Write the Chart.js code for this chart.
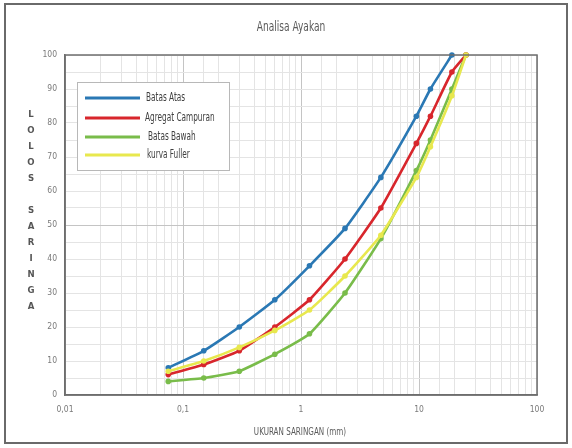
<!DOCTYPE html>
<html><head><meta charset="utf-8">
<script src="https://cdn.jsdelivr.net/npm/chart.js@4.4.1/dist/chart.umd.min.js"></script>
<style>html,body{margin:0;padding:0;background:#fff}#wrap{width:572px;height:448px;position:relative}</style>
</head><body><div id="wrap"><canvas id="c" width="572" height="448"></canvas></div>
<script>
const chartTitle = 'Analisa Ayakan';
const xTitle = 'UKURAN SARINGAN (mm)';
const yTitleLetters = ['L','O','L','O','S','','S','A','R','I','N','G','A'];
const sieveSizes = [0.075, 0.15, 0.3, 0.6, 1.18, 2.36, 4.75, 9.5, 12.5, 19, 25];
const batasAtas = [8, 13, 20, 28, 38, 49, 64, 82, 90, 100, null];
const agregatCampuran = [6, 9, 13, 20, 28, 40, 55, 74, 82, 95, 100];
const batasBawah = [4, 5, 7, 12, 18, 30, 46, 66, 75, 90, 100];
const kurvaFuller = [7, 10, 14, 19, 25, 35, 47, 64, 73, 88, 100];
const seriesNames = ['Batas Atas', 'Agregat Campuran', 'Batas Bawah', 'kurva Fuller'];
const seriesColors = ['#2a78b4', '#d8262c', '#79bc4a', '#e8e84e'];
const xTickLabels = {'-2': '0,01', '-1': '0,1', '0': '1', '1': '10', '2': '100'};
const yTickStep = 10;

const NARROW = "'Liberation Sans Narrow', 'DejaVu Sans Condensed', 'Liberation Sans', sans-serif";

function pts(arr) {
  return sieveSizes.map((s, i) => ({x: s, y: arr[i]})).filter(p => p.y !== null);
}
const seriesData = [batasAtas, agregatCampuran, batasBawah, kurvaFuller];
const orders = [2, 1, 3, 0];
const datasets = seriesData.map((arr, i) => ({
  label: seriesNames[i],
  data: pts(arr),
  borderColor: seriesColors[i],
  backgroundColor: seriesColors[i],
  borderWidth: 2.6,
  pointRadius: 2.8,
  pointHoverRadius: 2.8,
  pointBorderWidth: 0,
  tension: 0.15,
  clip: false,
  order: orders[i]
}));

function squeezeText(ctx, text, x, y, factor) {
  const w = ctx.measureText(text).width;
  ctx.fillText(text, x, y, w * factor);
}

const deco = {
  id: 'deco',
  beforeDraw(chart) {
    const ctx = chart.ctx;
    ctx.save();
    ctx.fillStyle = '#fff';
    ctx.fillRect(0, 0, chart.width, chart.height);
    ctx.strokeStyle = '#6a6a6a';
    ctx.lineWidth = 2;
    ctx.strokeRect(5, 4, 562, 439);
    ctx.restore();
  },
  afterDatasetsDraw(chart) {
    const ctx = chart.ctx, a = chart.chartArea;
    ctx.save();
    ctx.strokeStyle = '#6e6e6e';
    ctx.lineWidth = 1.5;
    ctx.strokeRect(a.left, a.top, a.right - a.left, a.bottom - a.top);
    // legend
    const lx = 77, ly = 82, lw = 152, lh = 88;
    ctx.fillStyle = '#fff';
    ctx.fillRect(lx, ly, lw, lh);
    ctx.strokeStyle = '#b8b8b8';
    ctx.lineWidth = 1;
    ctx.strokeRect(lx + 0.5, ly + 0.5, lw, lh);
    const rows = [98, 118, 137, 155];
    const textX = [146, 145, 148, 147];
    ctx.font = '12px ' + NARROW;
    ctx.textBaseline = 'middle';
    ctx.textAlign = 'left';
    for (let i = 0; i < 4; i++) {
      ctx.strokeStyle = seriesColors[i];
      ctx.lineWidth = 3;
      ctx.beginPath();
      ctx.moveTo(85, rows[i]);
      ctx.lineTo(140, rows[i]);
      ctx.stroke();
      ctx.fillStyle = '#404040';
      squeezeText(ctx, seriesNames[i], textX[i], rows[i], 0.68);
    }
    // title
    ctx.fillStyle = '#595959';
    ctx.textAlign = 'center';
    ctx.font = '14px ' + NARROW;
    squeezeText(ctx, chartTitle, 291, 27, 0.72);
    // x title
    ctx.font = '10px ' + NARROW;
    squeezeText(ctx, xTitle, 300, 432, 0.8);
    // y title stacked letters
    ctx.fillStyle = '#555';
    ctx.font = 'bold 9.5px ' + NARROW;
    let y = 115;
    for (const ch of yTitleLetters) {
      if (ch) ctx.fillText(ch, 31, y);
      y += 16;
    }
    ctx.restore();
  }
};

new Chart(document.getElementById('c'), {
  type: 'line',
  data: {datasets},
  options: {
    responsive: false,
    animation: false,
    devicePixelRatio: 1,
    layout: {padding: {left: 0, right: 35, top: 55, bottom: 0}},
    plugins: {legend: {display: false}, tooltip: {enabled: false}, title: {display: false}},
    scales: {
      x: {
        type: 'logarithmic',
        min: 0.01, max: 100,
        afterFit: s => { s.height = 53; },
        border: {display: true, color: '#6e6e6e', width: 1.5},
        grid: {
          drawTicks: false,
          color: c => {
            const v = c.tick ? c.tick.value : 0;
            const l = Math.log10(v);
            return Math.abs(l - Math.round(l)) < 1e-6 ? '#c4c4c4' : '#e4e4e4';
          },
          lineWidth: 1
        },
        ticks: {
          autoSkip: false, maxRotation: 0, minRotation: 0, padding: 10,
          color: '#7a7a7a', font: {size: 8.5, family: NARROW},
          callback: v => {
            const l = Math.log10(v);
            const r = Math.round(l);
            return Math.abs(l - r) < 1e-6 ? (xTickLabels[String(r)] || '') : '';
          }
        }
      },
      y: {
        min: 0, max: 100,
        afterFit: s => { s.width = 65; },
        border: {display: true, color: '#6e6e6e', width: 1.5},
        grid: {
          drawTicks: false,
          color: c => (c.tick && c.tick.value === 50) ? '#c4c4c4' : '#e4e4e4',
          lineWidth: 1
        },
        ticks: {
          stepSize: 5, padding: 8,
          color: '#7a7a7a', font: {size: 8.5, family: NARROW},
          callback: v => (v % yTickStep === 0 ? String(v) : '')
        }
      }
    }
  },
  plugins: [deco]
});
</script>
</body></html>
